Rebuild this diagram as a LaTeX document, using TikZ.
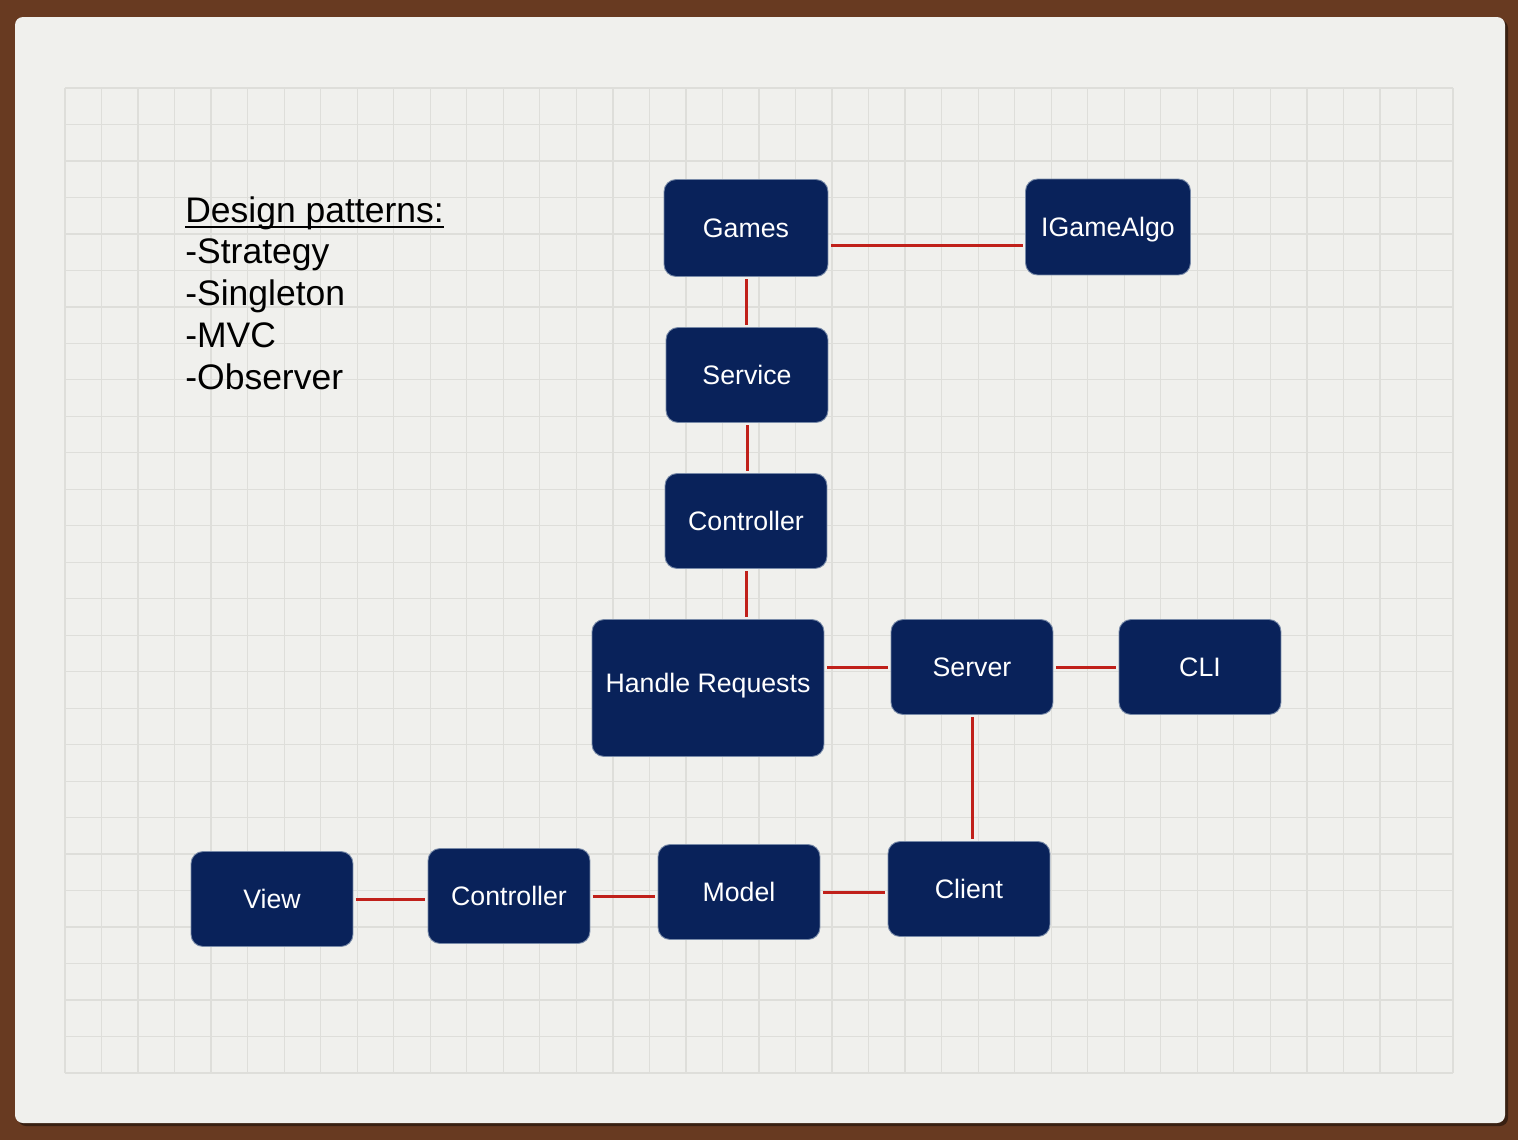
\documentclass[tikz,border=0pt]{standalone}
\usepackage{fontspec}
\setmainfont{Liberation Sans}
\usepackage{tikz}
\usetikzlibrary{positioning}

\definecolor{boardbrown}{RGB}{104,58,33}
\definecolor{paper}{RGB}{240,240,237}
\definecolor{gridgray}{RGB}{222,222,218}
\definecolor{boxnavy}{RGB}{9,34,90}
\definecolor{boxedge}{RGB}{120,138,168}
\definecolor{linkred}{RGB}{192,32,26}

\newcommand{\thickul}[1]{\setbox0\hbox{#1}\rlap{\rule[-3.4pt]{\wd0}{1.1pt}}\box0}

\begin{document}
\begin{tikzpicture}[x=0.02cm,y=-0.02cm,
  block/.style={draw=boxedge,line width=0.5pt,fill=boxnavy,rounded corners=0.24cm,
    text=white,minimum width=3.24cm,minimum height=1.9cm,inner sep=0pt,
    text height=10.9pt,text depth=0pt,
    font=\fontsize{15.2}{18}\selectfont},
  link/.style={linkred,line width=1.7pt,shorten <=0.05cm,shorten >=0.05cm},
  gridline/.style={gridgray,line width=0.7pt}]
\useasboundingbox (0,0) rectangle (1518,1140);
% board and paper
\fill [boardbrown] (0,0) rectangle (1518,1140);
\fill [black!45!boardbrown,rounded corners=0.16cm] (18,20) rectangle (1508,1126);
\fill [paper,rounded corners=0.16cm] (15,17) rectangle (1505,1123);
% grid
\foreach \i in {0,...,38}
  \draw [gridline] (65+\i*36.526,88) -- (65+\i*36.526,1073);
\foreach \j in {0,...,27}
  \draw [gridline] (65,88+\j*36.48) -- (1453,88+\j*36.48);
% notes
\node (notes) [anchor=north west,inner sep=0pt,align=left,
  font=\fontsize{20.2}{23.8}\selectfont] at (185,196)
  {\thickul{Design patterns:}\\-Strategy\\-Singleton\\-MVC\\-Observer};
% server side
\node (games) [block,minimum width=3.28cm,minimum height=1.94cm] at (746,228) {Games};
\node (igame) [block,minimum width=3.3cm,minimum height=1.92cm] at (1108,227) {IGameAlgo};
\node (service) [block] at (747,375) {Service};
\node (ctrl) [block] at (746,521) {Controller};
\node (handle) [block,minimum width=4.64cm,minimum height=2.74cm,text depth=5.7pt] at (708,688) {Handle Requests};
\node (server) [block] at (972,667) {Server};
\node (cli) [block] at (1200,667) {CLI};
% client side
\node (client) [block] at (969,889) {Client};
\node (model) [block] at (739,892) {Model};
\node (ctrltwo) [block] at (509,896) {Controller};
\node (view) [block] at (272,899) {View};
% links
\draw [link] ([yshift=-0.35cm]games.east) -- ([yshift=-0.35cm]games.east -| igame.west);
\draw [link] (games.south) -- (games.south |- service.north);
\draw [link] (service.south) -- (service.south |- ctrl.north);
\draw [link] (ctrl.south) -- (ctrl.south |- handle.north);
\draw [link] (server.west -| handle.east) -- (server.west);
\draw [link] (server) -- (cli);
\draw [link] (server.south) -- (server.south |- client.north);
\draw [link] (model.east) -- (model.east -| client.west);
\draw [link] (ctrltwo.east) -- (ctrltwo.east -| model.west);
\draw [link] (view.east) -- (view.east -| ctrltwo.west);
\end{tikzpicture}
\end{document}
